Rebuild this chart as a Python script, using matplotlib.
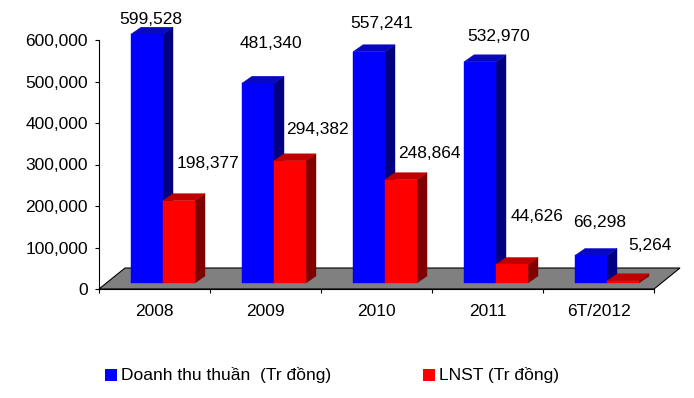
import matplotlib
matplotlib.use('Agg')
import matplotlib.pyplot as plt
from matplotlib.patches import Polygon, Rectangle

plt.rcParams['font.family'] = ['Liberation Sans', 'DejaVu Sans']

# data
categories = ['2008', '2009', '2010', '2011', '6T/2012']
doanh_thu = [599528, 481340, 557241, 532970, 66298]   # Doanh thu thuan (Tr dong)
lnst = [198377, 294382, 248864, 44626, 5264]          # LNST (Tr dong)
yticks = [0, 100000, 200000, 300000, 400000, 500000, 600000]

# label nudges in pixels (dx, dy) from the front top of each bar
dt_nudge = [(4, 15), (13, 40), (13, 28), (19, 25), (9, 33)]
ln_nudge = [(29, 37), (27, 31), (28, 26), (25, 48), (27, 35)]

FS = 12.5
W, H = 694, 398
fig = plt.figure(figsize=(W / 100, H / 100), dpi=100)
ax = fig.add_axes([99 / W, 109 / H, 555 / W, 249 / H])
ax.set_xlim(0, 5)
ax.set_ylim(0, 600000)

# pixel -> data units
px = 5 / 555.0
py = 600000 / 249.0

# floor (gray parallelogram going back into depth)
fdx, fdy = 26 * px, 21 * py
floor = Polygon([(0, 0), (5, 0), (5 + fdx, fdy), (fdx, fdy)], closed=True,
                facecolor='#808080', edgecolor='black', lw=0.8,
                clip_on=False, zorder=1)
ax.add_patch(floor)

# 3d bars
bw = 32 * px
sx, sy = 8.5 * px, 6 * py      # bar placement inside floor depth
ddx, ddy = 10 * px, 7 * py     # bar depth


def bar3d(x0, val, front, side, top):
    y0 = sy
    y1 = sy + val
    x1 = x0 + bw
    ax.add_patch(Polygon([(x1, y0), (x1 + ddx, y0 + ddy), (x1 + ddx, y1 + ddy), (x1, y1)],
                         closed=True, facecolor=side, edgecolor=side, lw=0.3,
                         clip_on=False, zorder=3))
    ax.add_patch(Polygon([(x0, y1), (x1, y1), (x1 + ddx, y1 + ddy), (x0 + ddx, y1 + ddy)],
                         closed=True, facecolor=top, edgecolor=top, lw=0.3,
                         clip_on=False, zorder=3))
    ax.add_patch(Rectangle((x0, y0), bw, val, facecolor=front, edgecolor=front,
                           lw=0.3, clip_on=False, zorder=3))


for i in range(len(categories)):
    c = i + 0.5 + sx
    bar3d(c - bw, doanh_thu[i], '#0000FF', '#000080', '#0808C0')
    bar3d(c, lnst[i], '#FF0000', '#800000', '#C00000')
    ax.annotate(f'{doanh_thu[i]:,}', xy=(c - bw / 2, sy + doanh_thu[i]),
                xytext=(dt_nudge[i][0], dt_nudge[i][1]), textcoords='offset pixels',
                ha='center', va='center', fontsize=FS, annotation_clip=False, zorder=5)
    ax.annotate(f'{lnst[i]:,}', xy=(c + bw / 2, sy + lnst[i]),
                xytext=(ln_nudge[i][0], ln_nudge[i][1]), textcoords='offset pixels',
                ha='center', va='center', fontsize=FS, annotation_clip=False, zorder=5)

# axes styling
for s in ['top', 'right']:
    ax.spines[s].set_visible(False)
ax.spines['left'].set_linewidth(0.8)
ax.spines['bottom'].set_linewidth(0.8)
ax.spines['left'].set_zorder(2)
ax.spines['bottom'].set_zorder(2)
ax.set_yticks(yticks)
ax.set_yticklabels([f'{v:,}' for v in yticks], fontsize=FS)
ax.tick_params(axis='y', direction='out', length=3, width=0.8, pad=5)
ax.set_xticks([i + 0.5 for i in range(len(categories))])
ax.set_xticklabels(categories, fontsize=FS)
ax.set_xticks(range(len(categories) + 1), minor=True)
ax.tick_params(axis='x', which='major', length=0, pad=11)
ax.tick_params(axis='x', which='minor', direction='out', length=3, width=0.8)

# legend
fig.add_artist(Rectangle((105 / W, (H - 381) / H), 12 / W, 12 / H,
                         transform=fig.transFigure, facecolor='#0000FF', edgecolor='none'))
fig.text(121 / W, (H - 375) / H, 'Doanh thu thuần  (Tr đồng)', fontsize=FS, va='center')
fig.add_artist(Rectangle((423 / W, (H - 381) / H), 12 / W, 12 / H,
                         transform=fig.transFigure, facecolor='#FF0000', edgecolor='none'))
fig.text(439 / W, (H - 375) / H, 'LNST (Tr đồng)', fontsize=FS, va='center')

fig.savefig('out.png', dpi=100)
plt.close(fig)
